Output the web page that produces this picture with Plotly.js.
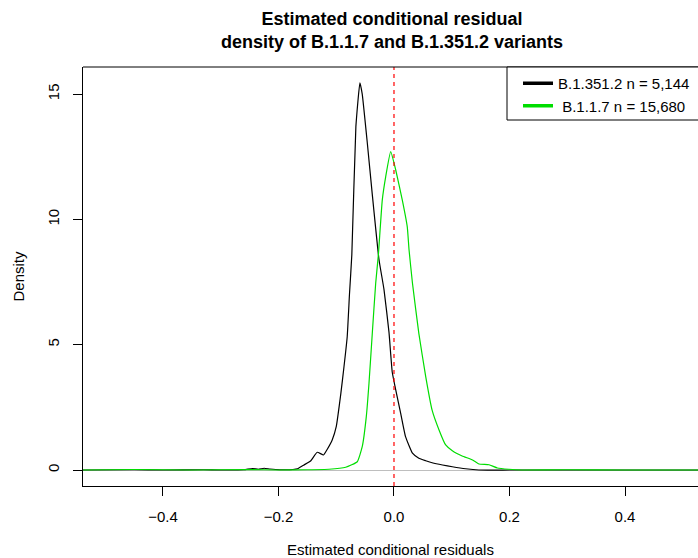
<!DOCTYPE html>
<html>
<head>
<meta charset="utf-8">
<script src="https://cdn.plot.ly/plotly-3.0.1.min.js"></script>
<style>html,body{margin:0;padding:0;background:#fff;overflow:hidden}</style>
</head>
<body>
<div id="chart" style="width:698px;height:558px"></div>
<script>
// Series: B.1.351.2 (black) density
const blackX = [-0.54, -0.45, -0.40, -0.33, -0.30, -0.26, -0.245, -0.235, -0.225, -0.215, -0.205, -0.19, -0.175, -0.167, -0.156, -0.144, -0.133, -0.122, -0.1155, -0.107, -0.100, -0.092, -0.0866, -0.081, -0.077, -0.073, -0.066, -0.059, -0.055, -0.046, -0.0376, -0.026, -0.0173, -0.0087, -0.003, 0.003, 0.0116, 0.020, 0.032, 0.043, 0.055, 0.066, 0.084, 0.101, 0.124, 0.147, 0.2, 0.3, 0.4, 0.53];
const blackY = [0.0, 0.01, 0.0, 0.01, 0.0, 0.01, 0.06, 0.03, 0.07, 0.04, 0.02, 0.01, 0.02, 0.05, 0.2, 0.37, 0.71, 0.60, 0.83, 1.20, 1.73, 3.06, 4.12, 5.32, 7.05, 8.6, 13.7, 15.45, 15.0, 13.0, 11.0, 8.4, 7.2, 5.5, 3.9, 3.2, 2.26, 1.33, 0.67, 0.47, 0.37, 0.29, 0.2, 0.13, 0.05, 0.0, 0.0, 0.0, 0.0, 0.0];
// Series: B.1.1.7 (green) density
const greenX = [-0.54, -0.45, -0.35, -0.25, -0.2, -0.15, -0.1126, -0.0836, -0.0636, -0.055, -0.048, -0.0433, -0.0376, -0.0317, -0.027, -0.0203, -0.0144, -0.0057, 0.003, 0.0144, 0.023, 0.026, 0.032, 0.043, 0.055, 0.066, 0.078, 0.0895, 0.101, 0.118, 0.136, 0.147, 0.1645, 0.179, 0.199, 0.222, 0.3, 0.4, 0.53];
const greenY = [0.0, 0.02, 0.0, 0.02, 0.0, 0.01, 0.03, 0.11, 0.33, 0.93, 2.12, 3.46, 5.45, 7.45, 8.6, 10.77, 11.7, 12.7, 11.97, 10.77, 9.7, 8.8, 7.45, 5.45, 3.72, 2.39, 1.6, 1.0, 0.77, 0.56, 0.40, 0.24, 0.21, 0.08, 0.03, 0.0, 0.01, 0.0, 0.0];
const seriesNames = ['B.1.351.2 n = 5,144', '\u00a0B.1.1.7 n = 15,680'];
const xTickVals = [-0.4, -0.2, 0.0, 0.2, 0.4];
const xTickText = ['\u22120.4', '\u22120.2', '0.0', '0.2', '0.4'];
const yTickVals = [0, 5, 10, 15];
const yTickText = ['0', '5', '10', '15'];
const refLineX = 0;

const BLACK = '#000000';
const GREEN = '#00dd00';
const FONT = 'Liberation Sans, Arial, Helvetica, sans-serif';

const traces = [
  {x: blackX, y: blackY, type: 'scatter', mode: 'lines', line: {color: BLACK, width: 1.2, shape: 'spline', smoothing: 0.4}, showlegend: false, hoverinfo: 'skip'},
  {x: greenX, y: greenY, type: 'scatter', mode: 'lines', line: {color: GREEN, width: 1.2, shape: 'spline', smoothing: 0.4}, showlegend: false, hoverinfo: 'skip'},
  {x: [null], y: [null], type: 'scatter', mode: 'lines', name: seriesNames[0], line: {color: BLACK, width: 3.5}},
  {x: [null], y: [null], type: 'scatter', mode: 'lines', name: seriesNames[1], line: {color: GREEN, width: 3.5}}
];

const layout = {
  width: 698, height: 558,
  margin: {l: 83, r: 0, t: 67, b: 72, pad: 0},
  paper_bgcolor: '#fff', plot_bgcolor: '#fff',
  font: {family: FONT, size: 15, color: '#000'},
  title: {
    text: '<b>Estimated conditional residual<br>density of B.1.1.7 and B.1.351.2 variants</b>',
    font: {family: FONT, size: 18, color: '#000'},
    xref: 'container', x: 392/698, xanchor: 'center',
    yref: 'container', y: 1 - 25/558, yanchor: 'top'
  },
  xaxis: {
    range: [-0.5385, 0.5264], tickvals: xTickVals, ticktext: xTickText,
    ticks: 'outside', ticklen: 9, tickwidth: 1, tickcolor: '#000',
    showline: true, linecolor: '#000', linewidth: 1,
    showgrid: false, zeroline: false,
    tickfont: {family: FONT, size: 15}, ticklabelstandoff: 8,
    title: {text: 'Estimated conditional residuals', font: {family: FONT, size: 15}, standoff: 22}
  },
  yaxis: {
    range: [-0.638, 16.08], tickvals: yTickVals, ticktext: yTickText, tickangle: -90,
    ticks: 'outside', ticklen: 9, tickwidth: 1, tickcolor: '#000',
    showline: true, linecolor: '#000', linewidth: 1,
    showgrid: false, zeroline: true, zerolinecolor: '#bebebe', zerolinewidth: 1,
    tickfont: {family: FONT, size: 15}, ticklabelstandoff: 8,
    title: {text: 'Density', font: {family: FONT, size: 15}, standoff: 16}
  },
  shapes: [
    {type: 'line', xref: 'x', yref: 'paper', x0: refLineX, x1: refLineX, y0: 0, y1: 1,
     line: {color: '#ff0000', width: 1.2, dash: '4px,4px'}},
    {type: 'line', xref: 'paper', yref: 'paper', x0: 0, x1: 1.02, y0: 1, y1: 1,
     line: {color: '#000', width: 1}},
    {type: 'rect', xref: 'paper', yref: 'paper', x0: (507-83)/615, x1: 1.05, y0: (486-120)/419, y1: 1,
     line: {color: '#000', width: 1}, fillcolor: '#fff', layer: 'above'}
  ],
  legend: {
    x: (518-83)/615, xanchor: 'left', y: 1, yanchor: 'top',
    bgcolor: 'rgba(0,0,0,0)', borderwidth: 0,
    font: {family: FONT, size: 15, color: '#000'}
  },
  showlegend: true
};

Plotly.newPlot('chart', traces, layout, {displayModeBar: false, staticPlot: true});
</script>
</body>
</html>
